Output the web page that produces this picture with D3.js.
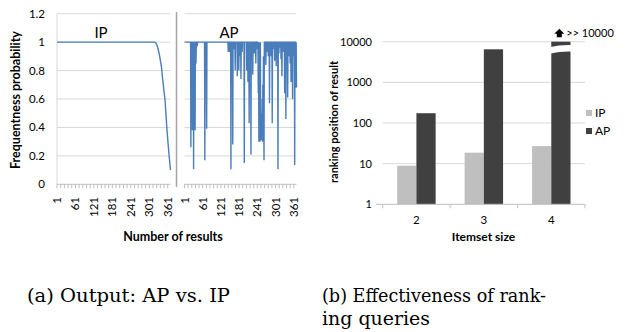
<!DOCTYPE html>
<html>
<head>
<meta charset="utf-8">
<script src="https://cdn.jsdelivr.net/npm/d3@7"></script>
<style>
  body { margin: 0; background: #fff; }
  svg { font-family: Lato, "Liberation Sans", sans-serif; }
</style>
</head>
<body>
<svg id="chart" width="626" height="332"></svg>
<script>
// ---- data: (a) frequentness probability per result ----
const resultCount = 370;
const resultTickLabels = [1, 61, 121, 181, 241, 301, 361];
const probTicks = [0, 0.2, 0.4, 0.6, 0.8, 1, 1.2];

// IP curve as [result, probability] points
const ipCurve = [
  [1, 1], [318, 1], [322, 0.995], [326, 0.98], [330, 0.95], [334, 0.91],
  [338, 0.86], [341, 0.82], [344, 0.75], [348, 0.67], [352, 0.6], [355, 0.5],
  [358, 0.4], [362, 0.29], [366, 0.19], [370, 0.1]
];

// AP: probability is 1 except at these results
const apDips = [
  [22, 0.26], [27, 0.38], [31, 0.105], [36, 0.38], [39, 0.85], [43, 0.97],
  [68, 0.17], [74, 0.39], [145, 0.93], [150, 0.93], [154, 0.105], [160, 0.28],
  [165, 0.95], [168, 0.8], [175, 0.76], [180, 0.8], [183, 0.9], [187, 0.74],
  [191, 0.93], [198, 0.15], [206, 0.8], [210, 0.72], [214, 0.43], [220, 0.21],
  [226, 0.77], [231, 0.92], [236, 0.85], [239, 0.95], [244, 0.64], [246, 0.3],
  [248, 0.55], [250, 0.3], [252, 0.33], [253, 0.6], [254, 0.31], [255, 0.5],
  [256, 0.33], [257, 0.45], [258, 0.3], [259, 0.7], [260, 0.35], [261, 0.9],
  [262, 0.5], [263, 0.17], [269, 0.84], [272, 0.93], [277, 0.9], [281, 0.57],
  [286, 0.9], [290, 0.43], [294, 0.95], [298, 0.87], [303, 0.83], [309, 0.105],
  [312, 0.92], [316, 0.96], [319, 0.88], [322, 0.76], [326, 0.93], [331, 0.64],
  [335, 0.46], [338, 0.9], [341, 0.61], [346, 0.9], [349, 0.85], [352, 0.72],
  [357, 0.6], [361, 0.9], [364, 0.135], [368, 0.68], [370, 0.68]
];

// ---- data: (b) ranking position of result ----
const itemsetSizes = ["2", "3", "4"];
const seriesNames = ["IP", "AP"];
const ipRank = [8.9, 18.6, 27];
const apRank = [174, 6500, 10000];   // size 4 is >> 10000, clipped at the axis top
const rankTicks = [1, 10, 100, 1000, 10000];
const overflowLabel = ">> 10000";

const svg = d3.select("#chart");
const blue = "#4a7ebb";
const grid = "#d9d9d9";
const axisGray = "#bfbfbf";
const serif = "'DejaVu Serif', 'Liberation Serif', serif";

// ================= (a) =================
const yProb = d3.scaleLinear().domain([0, 1.2]).range([184.3, 13.7]);

function panel(x0, x1, series, label, labelX) {
  const x = d3.scaleLinear().domain([1, resultCount]).range([x0, x1]);
  const g = svg.append("g");

  g.selectAll("line.grid")
    .data(probTicks.filter(d => d > 0))
    .enter().append("line")
      .attr("x1", x0).attr("x2", x1)
      .attr("y1", d => yProb(d)).attr("y2", d => yProb(d))
      .attr("stroke", grid).attr("stroke-width", 1);

  // category axis with minor ticks every 12 results
  g.append("line")
    .attr("x1", x0).attr("x2", x1)
    .attr("y1", yProb(0)).attr("y2", yProb(0))
    .attr("stroke", axisGray);
  g.selectAll("line.tick")
    .data(d3.range(1, resultCount + 1, 12))
    .enter().append("line")
      .attr("x1", d => x(d)).attr("x2", d => x(d))
      .attr("y1", yProb(0)).attr("y2", yProb(0) + 4)
      .attr("stroke", axisGray);

  g.selectAll("text.xlab")
    .data(resultTickLabels)
    .enter().append("text")
      .attr("transform", d => `translate(${x(d)},197) rotate(-90)`)
      .attr("dy", "0.35em")
      .attr("text-anchor", "end")
      .attr("font-size", 11.5)
      .text(d => d);

  g.append("path")
    .datum(series)
    .attr("fill", "none")
    .attr("stroke", blue)
    .attr("stroke-width", 1.4)
    .attr("stroke-linejoin", "bevel")
    .attr("d", d3.line().x(d => x(d[0])).y(d => yProb(d[1])));

  g.append("text")
    .attr("x", labelX).attr("y", 38)
    .attr("font-size", 15)
    .attr("text-anchor", "middle")
    .text(label);
  return x;
}

// y axis of the left panel
svg.append("line")
  .attr("x1", 57).attr("x2", 57)
  .attr("y1", yProb(1.2)).attr("y2", yProb(0))
  .attr("stroke", grid);
svg.selectAll("text.ylab")
  .data(probTicks)
  .enter().append("text")
    .attr("x", 45).attr("y", d => yProb(d))
    .attr("dy", "0.35em")
    .attr("text-anchor", "end")
    .attr("font-size", 11.5)
    .text(d => d);

panel(57, 170.5, ipCurve, "IP", 101);

const dipMap = new Map(apDips);
const apSeries = d3.range(1, resultCount + 1).map(i => [i, dipMap.has(i) ? dipMap.get(i) : 1]);
panel(184.5, 296.5, apSeries, "AP", 229);

// divider between the two panels
svg.append("line")
  .attr("x1", 176.5).attr("x2", 176.5)
  .attr("y1", 12).attr("y2", 187)
  .attr("stroke", "#a6a6a6").attr("stroke-width", 1.5);

svg.append("text")
  .attr("transform", "translate(20,100) rotate(-90)")
  .attr("text-anchor", "middle")
  .attr("font-size", 12.5).attr("font-weight", "bold")
  .text("Frequentness probability");
svg.append("text")
  .attr("x", 173).attr("y", 241)
  .attr("text-anchor", "middle")
  .attr("font-size", 12.5).attr("font-weight", "bold")
  .text("Number of results");

// ================= (b) =================
const xCat = d3.scaleBand().domain(itemsetSizes).range([382.7, 585])
  .paddingInner(0.43).paddingOuter(0.215);
const xSer = d3.scaleBand().domain(seriesNames).range([0, xCat.bandwidth()]);
const yRank = d3.scaleLog().domain([1, 10000]).range([204.3, 41.7]);
const colors = { IP: "#bfbfbf", AP: "#404040" };

svg.selectAll("line.rgrid")
  .data(rankTicks.slice(1))
  .enter().append("line")
    .attr("x1", 382.7).attr("x2", 585)
    .attr("y1", d => yRank(d)).attr("y2", d => yRank(d))
    .attr("stroke", grid);

svg.selectAll("text.rlab")
  .data(rankTicks)
  .enter().append("text")
    .attr("x", 372).attr("y", d => yRank(d))
    .attr("dy", "0.35em")
    .attr("text-anchor", "end")
    .attr("font-size", 11)
    .text(d => d);

const barRows = itemsetSizes.map((s, i) => ({ size: s, IP: ipRank[i], AP: apRank[i] }));
const groups = svg.selectAll("g.grp")
  .data(barRows)
  .enter().append("g")
    .attr("transform", d => `translate(${xCat(d.size)},0)`);
groups.selectAll("rect")
  .data(d => seriesNames.map(k => ({ key: k, value: d[k] })))
  .enter().append("rect")
    .attr("x", d => xSer(d.key))
    .attr("width", xSer.bandwidth())
    .attr("y", d => yRank(d.value))
    .attr("height", d => yRank(1) - yRank(d.value))
    .attr("fill", d => colors[d.key]);

// axis at 1 with ticks at the category boundaries
svg.append("line")
  .attr("x1", 376).attr("x2", 585)
  .attr("y1", yRank(1)).attr("y2", yRank(1))
  .attr("stroke", axisGray);
const bounds = itemsetSizes.map(s => xCat(s) - xCat.step() * 0.215).concat([585]);
svg.selectAll("line.rtick")
  .data(bounds)
  .enter().append("line")
    .attr("x1", d => d).attr("x2", d => d)
    .attr("y1", yRank(1)).attr("y2", yRank(1) + 4)
    .attr("stroke", axisGray);
svg.selectAll("text.catlab")
  .data(itemsetSizes)
  .enter().append("text")
    .attr("x", d => xCat(d) + xCat.bandwidth() / 2)
    .attr("y", 224)
    .attr("text-anchor", "middle")
    .attr("font-size", 11.5)
    .text(d => d);

// broken bar for the overflowing value
apRank.forEach((v, i) => {
  if (v < 10000) return;
  const bx = xCat(itemsetSizes[i]) + xSer("AP");
  const bw = xSer.bandwidth();
  const top = yRank(10000);
  svg.append("path")
    .attr("d", `M${bx - 2},${top + 5.5} Q${bx + bw * 0.5},${top + 3} ${bx + bw + 2},${top + 3.5}
                L${bx + bw + 2},${top + 10} Q${bx + bw * 0.5},${top + 9.5} ${bx - 2},${top + 12} Z`)
    .attr("fill", "#fff");
  const ax = bx + 8;
  svg.append("path")
    .attr("d", `M${ax - 5},${top - 8} L${ax},${top - 13} L${ax + 5},${top - 8} L${ax + 2.5},${top - 8}
                L${ax + 2.5},${top - 4.5} L${ax - 2.5},${top - 4.5} L${ax - 2.5},${top - 8} Z`)
    .attr("fill", "#000");
  svg.append("text")
    .attr("x", ax + 7).attr("y", top - 5)
    .attr("font-size", 11)
    .text(overflowLabel);
});

// legend
const legend = svg.selectAll("g.leg")
  .data(seriesNames)
  .enter().append("g")
    .attr("transform", (d, i) => `translate(586,${113 + i * 18})`);
legend.append("rect")
  .attr("x", 0).attr("y", -3).attr("width", 6).attr("height", 6)
  .attr("fill", d => colors[d]);
legend.append("text")
  .attr("x", 9).attr("dy", "0.35em")
  .attr("font-size", 12)
  .text(d => d);

svg.append("text")
  .attr("transform", "translate(338,122) rotate(-90)")
  .attr("text-anchor", "middle")
  .attr("font-size", 11).attr("font-weight", "bold")
  .text("ranking position of result");
svg.append("text")
  .attr("x", 483.5).attr("y", 241)
  .attr("text-anchor", "middle")
  .attr("font-size", 12).attr("font-weight", "bold")
  .text("Itemset size");

// ================= captions =================
const captions = [
  { text: "(a) Output: AP vs. IP", x: 27, y: 301.5, len: 203 },
  { text: "(b) Effectiveness of rank-", x: 322, y: 301.5, len: 224 },
  { text: "ing queries", x: 322, y: 325, len: 108 }
];
svg.selectAll("text.caption")
  .data(captions)
  .enter().append("text")
    .attr("x", d => d.x).attr("y", d => d.y)
    .style("font-family", serif)
    .attr("font-size", 19)
    .attr("textLength", d => d.len).attr("lengthAdjust", "spacingAndGlyphs")
    .text(d => d.text);
</script>
</body>
</html>
